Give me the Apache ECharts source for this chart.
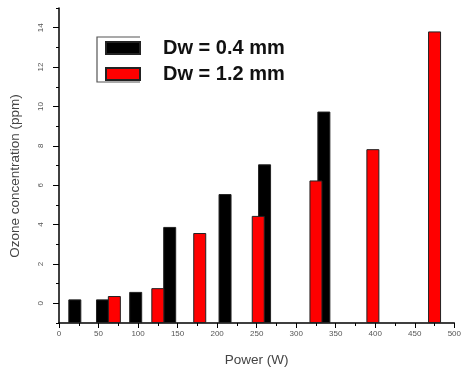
<!DOCTYPE html>
<html>
<head>
<meta charset="utf-8">
<script src="https://cdn.jsdelivr.net/npm/echarts@6/dist/echarts.min.js"></script>
<style>
html,body{margin:0;padding:0;background:#fff;}
#chart{width:464px;height:372px;}
</style>
</head>
<body>
<div id="chart"></div>
<script>
// Data
const seriesNames = ['Dw = 0.4 mm', 'Dw = 1.2 mm'];
const blackPower = [20, 55, 97, 140, 210, 260, 335];
const blackOzone = [0.2, 0.2, 0.58, 3.88, 5.55, 7.06, 9.74];
const redPower = [70, 125, 178, 252, 325, 397, 475];
const redOzone = [0.37, 0.77, 3.57, 4.44, 6.24, 7.83, 13.81];
const yTickLabels = [0, 2, 4, 6, 8, 10, 12, 14];
const yMinorTicks = [-1, 1, 3, 5, 7, 9, 11, 13, 15];
const xAxisTitle = 'Power (W)';
const yAxisTitle = 'Ozone concentration (ppm)';

const chart = echarts.init(document.getElementById('chart'), null, {renderer: 'canvas'});
const pairs = (xs, ys) => xs.map((x, i) => [x, ys[i]]);
const labelColor = '#555';
const option = {
  animation: false,
  backgroundColor: '#fff',
  textStyle: {fontFamily: 'Liberation Sans'},
  grid: {left: 59, right: 7, top: 8, bottom: 48},
  legend: {
    data: seriesNames,
    orient: 'vertical',
    left: 100,
    top: 33,
    itemWidth: 34,
    itemHeight: 12,
    itemGap: 6,
    icon: 'rect',
    textStyle: {fontSize: 20, fontWeight: 'bold', color: '#111', padding: [0, 0, 0, 18], lineHeight: 20}
  },
  graphic: [{
    type: 'polyline',
    shape: {points: [[140, 37], [97, 37], [97, 82], [140, 82]]},
    style: {stroke: '#555', lineWidth: 1.2, fill: null}
  }, {
    type: 'text',
    x: 15, y: 176,
    rotation: Math.PI / 2,
    style: {text: yAxisTitle, fontSize: 13.5, fill: '#444', align: 'center', verticalAlign: 'middle', fontFamily: 'Liberation Sans'}
  }],
  xAxis: {
    type: 'value',
    min: 0, max: 500, interval: 50,
    name: xAxisTitle,
    nameLocation: 'middle',
    nameGap: 30,
    nameTextStyle: {fontSize: 13.5, color: '#444'},
    axisLine: {show: true, onZero: false, lineStyle: {color: '#000', width: 1.5}},
    axisTick: {show: true, length: 5, lineStyle: {color: '#000'}},
    minorTick: {show: true, splitNumber: 2, length: 3, lineStyle: {color: '#000'}},
    axisLabel: {fontSize: 8, color: labelColor, margin: 7},
    splitLine: {show: false}
  },
  yAxis: [{
    type: 'value',
    min: -1, max: 15,
    startValue: -1,
    axisLine: {show: true, onZero: false, lineStyle: {color: '#000', width: 1.5}},
    axisTick: {show: true, length: 6, customValues: yTickLabels, lineStyle: {color: '#000'}},
    axisLabel: {fontSize: 8, color: labelColor, rotate: 90, margin: 14, customValues: yTickLabels},
    splitLine: {show: false}
  }, {
    type: 'value',
    min: -1, max: 15,
    position: 'left',
    axisLine: {show: false, onZero: false},
    axisTick: {show: true, length: 3, customValues: yMinorTicks, lineStyle: {color: '#000'}},
    axisLabel: {show: false},
    splitLine: {show: false}
  }],
  series: [{
    name: seriesNames[0],
    type: 'bar',
    yAxisIndex: 0,
    barWidth: 13,
    barGap: '-100%',
    itemStyle: {color: '#000', borderColor: '#222', borderWidth: 1},
    data: pairs(blackPower, blackOzone)
  }, {
    name: seriesNames[1],
    type: 'bar',
    yAxisIndex: 0,
    barWidth: 13,
    barGap: '-100%',
    itemStyle: {color: '#ff0000', borderColor: '#222', borderWidth: 1},
    data: pairs(redPower, redOzone)
  }]
};
chart.setOption(option);
</script>
</body>
</html>
